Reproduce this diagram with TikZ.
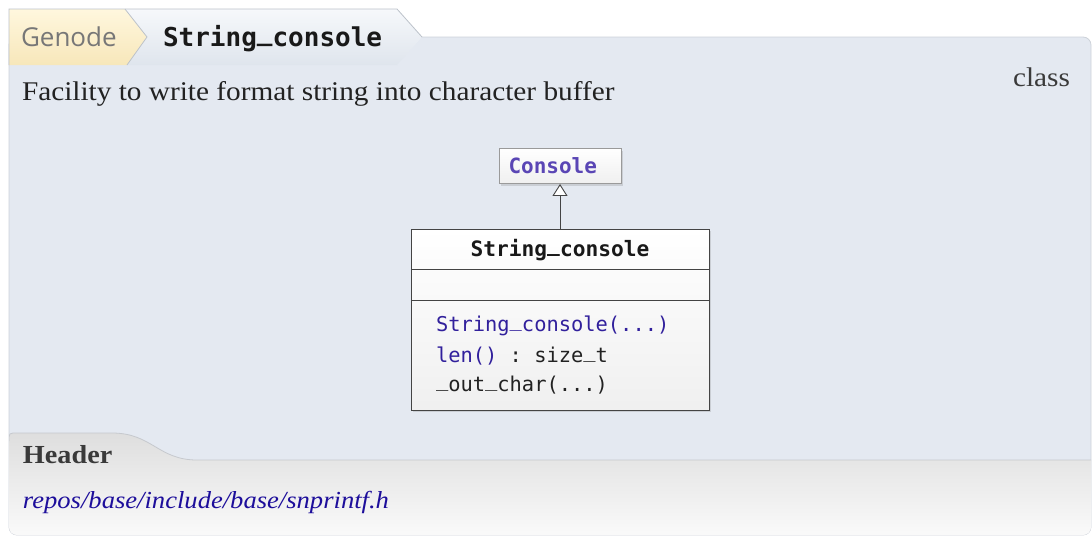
\documentclass[tikz,border=0pt]{standalone}
\usepackage{fontspec}
\setmainfont{Liberation Serif}[FakeStretch=1.085]
\setmonofont{DejaVu Sans Mono}
\newfontfamily\crumbfont{Open Sans}
\usetikzlibrary{arrows.meta,shadows}
\newcommand\myus{\raisebox{0.2em}{\_}}
\definecolor{panelfill}{HTML}{E4E9F1}
\definecolor{panelline}{HTML}{CDD2D9}
\definecolor{tabAtop}{HTML}{FFF7DE}
\definecolor{tabAbot}{HTML}{F7E7BA}
\definecolor{tabBtop}{HTML}{F6F8FB}
\definecolor{tabBbot}{HTML}{DFE5ED}
\definecolor{tabline}{HTML}{BCC2CA}
\definecolor{foottop}{HTML}{DEDEDE}
\definecolor{footbot}{HTML}{FAFAFA}
\definecolor{footline}{HTML}{C6C9CE}
\definecolor{crumbgray}{HTML}{777777}
\definecolor{bodytext}{HTML}{222222}
\definecolor{headgray}{HTML}{3A3A3A}
\definecolor{linkblue}{HTML}{1D0E9B}
\definecolor{consolepurple}{HTML}{5A46B5}
\definecolor{methodblue}{HTML}{31209C}
\definecolor{boxline}{HTML}{444444}
\definecolor{consoleline}{HTML}{9A9A9A}
\tikzset{
  txt/.style={inner sep=0pt, outer sep=0pt},
  umlbox/.style={draw=boxline, line width=0.9pt, top color=white, bottom color=black!6,
    drop shadow={opacity=0.25, shadow xshift=2pt, shadow yshift=-2pt}, inner sep=0pt},
  consolebox/.style={umlbox, draw=consoleline},
  monoitem/.style={txt, anchor=base west, font=\fontsize{20.4}{24}\selectfont\ttfamily},
}
\begin{document}
\begin{tikzpicture}[x=1pt,y=-1pt]
\useasboundingbox (0,0) rectangle (1092,536);
% main panel
\filldraw[fill=panelfill, draw=panelline, line width=0.8pt, rounded corners=8pt] (9,37) rectangle (1091,535);
% footer
\begin{scope}
  \clip[rounded corners=8pt] (9,37) rectangle (1091,535);
  \shade[top color=foottop, bottom color=footbot]
    (9,536) -- (9,441) .. controls (9,433) .. (17,433) -- (112,433)
    .. controls (152,433) and (158,460) .. (197,460) -- (1092,460) -- (1092,536) -- cycle;
  \draw[footline, line width=0.8pt]
    (9,441) .. controls (9,433) .. (17,433) -- (112,433)
    .. controls (152,433) and (158,460) .. (197,460) -- (1092,460);
\end{scope}
% breadcrumb tabs
\shade[top color=tabBtop, bottom color=tabBbot]
  (125,9) -- (397,9) -- (422,37) -- (397,65) -- (127,65) -- (147,37) -- cycle;
\shade[top color=tabAtop, bottom color=tabAbot]
  (9,9) -- (125,9) -- (147,37) -- (127,65) -- (9,65) -- cycle;
\draw[tabline, line width=0.8pt] (9,65) -- (9,9) -- (397,9) -- (422,37);
\draw[tabline, line width=0.8pt] (125,9) -- (147,37) -- (127,65);
\node[txt, anchor=base west, text=crumbgray, font=\fontsize{26}{30}\selectfont\crumbfont] (crumbA) at (21,46) {Genode};
\node[txt, anchor=base west, text=black!90, font=\fontsize{26}{30}\selectfont\ttfamily\bfseries] (crumbB) at (163,46) {String\myus console};
% description
\node[txt, anchor=base west, text=bodytext, font=\fontsize{27}{32}\selectfont] (desc) at (22,100) {Facility to write format string into character buffer};
\node[txt, anchor=base east, text=headgray, font=\fontsize{27}{32}\selectfont] (kind) at (1070,86) {class};
% UML
\node[consolebox, minimum width=122pt, minimum height=35pt] (console) at (560,166) {};
\node[txt, anchor=base west, text=consolepurple,
      font=\fontsize{21}{25}\selectfont\ttfamily\bfseries] (consoletxt) at (508.5,173.5) {Console};
\node[umlbox, minimum width=298pt, minimum height=181pt] (sc) at (560,319.5) {};
\coordinate (d1w) at (411,269); \coordinate (d1e) at (709,269);
\coordinate (d2w) at (411,300); \coordinate (d2e) at (709,300);
\draw[boxline, line width=0.9pt] (d1w) -- (d1e);
\draw[boxline, line width=0.9pt] (d2w) -- (d2e);
\node[txt, anchor=base, text=black!90, font=\fontsize{21.2}{25}\selectfont\ttfamily\bfseries] (sctitle) at (560,256) {String\myus console};
\node[monoitem, text=methodblue] (m1) at (436,331) {String\myus console(...)};
\node[monoitem, text=bodytext] (m2) at (436,362) {\textcolor{methodblue}{len()}\ :\ size\myus t};
\node[monoitem, text=bodytext] (m3) at (436,391) {\myus out\myus char(...)};
\draw[boxline, line width=0.9pt, -{Triangle[length=12pt,width=15pt,fill=white]}] (sc.north) -- (console.south);
% footer text
\node[txt, anchor=base west, text=headgray, font=\fontsize{26}{30}\selectfont\bfseries] (hdr) at (23,463) {Header};
\node[txt, anchor=base west, text=linkblue, font=\fontsize{24.5}{30}\selectfont\itshape] (link) at (23,508) {repos/base/include/base/snprintf.h};
\end{tikzpicture}
\end{document}
